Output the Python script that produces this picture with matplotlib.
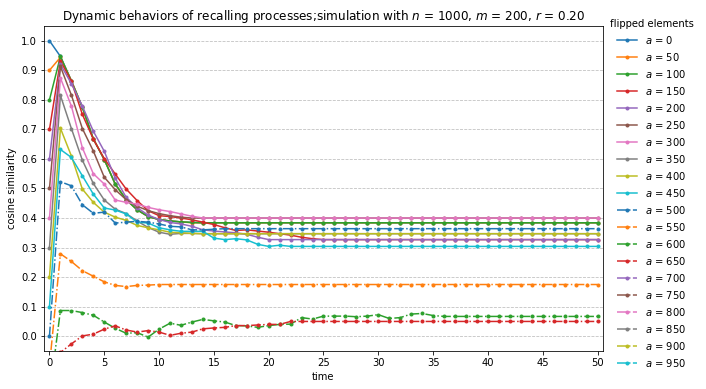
import numpy as np
import matplotlib
matplotlib.use('Agg')
import matplotlib.pyplot as plt

# flipped elements and the recall curves (cosine similarity per time step)
flipped = [0, 50, 100, 150, 200, 250, 300, 350, 400, 450,
           500, 550, 600, 650, 700, 750, 800, 850, 900, 950]

a0 = [1.0, 0.947, 0.865, 0.775, 0.668, 0.598, 0.515, 0.462, 0.428, 0.405, 0.395, 0.39, 0.387, 0.385] + [0.384] * 37
a50 = [0.9, 0.944, 0.865, 0.775, 0.668, 0.598, 0.515, 0.462, 0.428, 0.405, 0.395, 0.39, 0.387] + [0.384] * 38
a100 = [0.8, 0.947, 0.863, 0.775, 0.668, 0.598, 0.515, 0.462, 0.428, 0.405, 0.395, 0.39, 0.387, 0.385] + [0.384] * 37
a150 = [0.7, 0.932, 0.863, 0.751, 0.667, 0.601, 0.549, 0.498, 0.459, 0.425, 0.408, 0.405, 0.40, 0.394,
        0.386, 0.378, 0.367, 0.358, 0.36, 0.356, 0.352, 0.347, 0.342, 0.335, 0.33] + [0.327] * 26
a200 = [0.6, 0.92, 0.855, 0.779, 0.694, 0.626, 0.535, 0.47, 0.435, 0.41, 0.395, 0.385, 0.38, 0.372,
        0.36, 0.356, 0.353, 0.35, 0.345, 0.335] + [0.327] * 31
a250 = [0.5, 0.913, 0.816, 0.703, 0.627, 0.538, 0.496, 0.462, 0.44, 0.425, 0.415, 0.408, 0.403, 0.40] + [0.40] * 37
a300 = [0.4, 0.874, 0.779, 0.638, 0.55, 0.515, 0.461, 0.453, 0.447, 0.436, 0.428, 0.422, 0.414, 0.406] + [0.40] * 37
a350 = [0.3, 0.815, 0.703, 0.596, 0.517, 0.461, 0.43, 0.415, 0.39, 0.368, 0.352, 0.345, 0.348, 0.348] + [0.347] * 37
a400 = [0.2, 0.704, 0.61, 0.498, 0.453, 0.42, 0.403, 0.392, 0.375, 0.367, 0.36, 0.352, 0.35, 0.348] + [0.347] * 37
a450 = [0.1, 0.632, 0.605, 0.543, 0.481, 0.434, 0.427, 0.414, 0.386, 0.383, 0.367, 0.36, 0.355, 0.355,
        0.355, 0.332, 0.327, 0.33, 0.326, 0.311, 0.304, 0.308] + [0.304] * 29
a500 = [0.0, 0.523, 0.509, 0.445, 0.416, 0.42, 0.383, 0.386, 0.389, 0.386, 0.38, 0.372, 0.37, 0.36,
        0.36, 0.362] + [0.364] * 35
a550 = [-0.1, 0.279, 0.253, 0.222, 0.203, 0.184, 0.172, 0.168, 0.172, 0.173] + [0.175] * 41
a600 = [-0.2, 0.087, 0.087, 0.08, 0.071, 0.048, 0.027, 0.01, 0.012, -0.003, 0.024, 0.044, 0.037, 0.048,
        0.057, 0.052, 0.048, 0.036, 0.035, 0.03, 0.036, 0.04, 0.041, 0.063, 0.058, 0.068, 0.068, 0.068,
        0.066, 0.068, 0.073, 0.06, 0.063, 0.075, 0.077, 0.07] + [0.067] * 15
a650 = [-0.3, -0.055, -0.026, 0.001, 0.007, 0.024, 0.035, 0.021, 0.014, 0.019, 0.014, 0.003, 0.01, 0.014,
        0.025, 0.028, 0.03, 0.036, 0.036, 0.038, 0.04, 0.04, 0.05] + [0.05] * 28
a700 = [-0.4, -0.15, -0.12, -0.1] + [-0.1] * 47
a750 = [-0.5, -0.3, -0.25, -0.2] + [-0.18] * 47
a800 = [-0.6, -0.45, -0.38, -0.32] + [-0.3] * 47
a850 = [-0.7, -0.6, -0.5, -0.42] + [-0.38] * 47
a900 = [-0.8, -0.7, -0.6, -0.5] + [-0.4] * 47
a950 = [-0.9, -0.8, -0.7, -0.6] + [-0.45] * 47

curves = [a0, a50, a100, a150, a200, a250, a300, a350, a400, a450,
          a500, a550, a600, a650, a700, a750, a800, a850, a900, a950]

time = np.arange(len(a0))

fig = plt.figure(figsize=(706 / 72, 389 / 72), dpi=72)
ax = fig.add_axes([0.0623, 0.0977, 0.7918, 0.8355])

for i, (a, y) in enumerate(zip(flipped, curves)):
    ls = '-' if i < 10 else '-.'
    ax.plot(time, y, ls, marker='.', color='C%d' % (i % 10), label='$a$ = %d' % a)

ax.set_xlim(-0.5, 50.5)
ax.set_ylim(-0.05, 1.05)
ax.set_xticks(np.arange(0, 51, 5))
ax.set_yticks(np.arange(0, 1.01, 0.1))
ax.grid(axis='y', linestyle='--', alpha=0.8)
ax.set_xlabel('time')
ax.set_ylabel('cosine similarity')
ax.set_title('Dynamic behaviors of recalling processes;simulation with $n$ = 1000, $m$ = 200, $r$ = 0.20')
ax.legend(title='flipped elements', loc='upper left', bbox_to_anchor=(0.996, 1.05), frameon=False)

fig.savefig('out.png', dpi=72)
